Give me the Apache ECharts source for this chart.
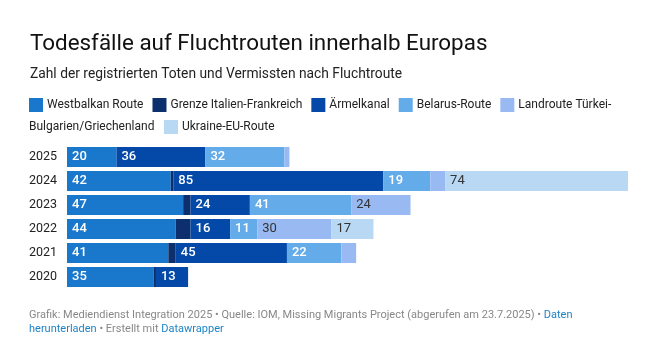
<!DOCTYPE html>
<html><head><meta charset="utf-8">
<script src="https://cdn.jsdelivr.net/npm/echarts@6/dist/echarts.min.js"></script>
<style>html,body{margin:0;padding:0;background:#fff}#c{width:656px;height:359px}</style>
</head><body><div id="c"></div>
<script>
const years = ['2025','2024','2023','2022','2021','2020'];
const seriesNames = ['Westbalkan Route','Grenze Italien-Frankreich','Ärmelkanal','Belarus-Route','Landroute Türkei-Bulgarien/Griechenland','Ukraine-EU-Route'];
const westbalkan  = [20, 42, 47, 44, 41, 35];
const grenze      = [0, 1, 3, 6, 3, 1];
const aermelkanal = [36, 85, 24, 16, 45, 13];
const belarus     = [32, 19, 41, 11, 22, 0];
const landroute   = [2, 6, 24, 30, 6, 0];
const ukraine     = [0, 74, 0, 17, 0, 0];
const colors = ['#1a78cc','#0d2f6e','#0449a8','#64abea','#98b9f1','#b8d8f4'];
const labelColors = ['#fff','#fff','#fff','#fff','#333','#333'];
const values = [westbalkan, grenze, aermelkanal, belarus, landroute, ukraine];

const FONT = 'Roboto';
const chart = echarts.init(document.getElementById('c'), null, {renderer:'canvas'});

const series = seriesNames.map((name, i) => ({
  name, type: 'bar', stack: 'total', barWidth: 20,
  itemStyle: { color: colors[i] },
  label: {
    show: true, position: 'insideLeft', distance: 5,
    color: labelColors[i], fontFamily: FONT, fontSize: 13,
    fontWeight: i < 4 ? 500 : 'normal',
    formatter: p => (p.value >= 10 ? String(p.value) : '')
  },
  emphasis: { disabled: true },
  data: values[i]
}));

const legendCommon = {
  orient: 'horizontal', itemWidth: 14, itemHeight: 14, itemGap: 9, padding: 0,
  icon: 'rect', selectedMode: false,
  textStyle: { fontFamily: FONT, fontSize: 12, color: '#222', padding: [0,0,0,-1] }
};

chart.setOption({
  animation: false,
  textStyle: { fontFamily: FONT },
  title: [
    { text: 'Todesfälle auf Fluchtrouten innerhalb Europas', left: 30, top: 33, padding: 0,
      textStyle: { fontFamily: FONT, fontSize: 22.4, fontWeight: 'normal', color: '#111' } },
    { text: 'Zahl der registrierten Toten und Vermissten nach Fluchtroute', left: 30, top: 68, padding: 0,
      textStyle: { fontFamily: FONT, fontSize: 13.8, fontWeight: 'normal', color: '#222' } }
  ],
  legend: [
    Object.assign({}, legendCommon, { left: 29, top: 98, data: seriesNames.slice(0,5),
      formatter: n => n === seriesNames[4] ? 'Landroute Türkei-' : n }),
    Object.assign({}, legendCommon, { left: 164, top: 120, data: [seriesNames[5]] })
  ],
  graphic: [
    { type: 'text', left: 29, top: 121,
      style: { text: 'Bulgarien/Griechenland', font: '12px ' + FONT, fill: '#222' } },
    { type: 'text', left: 29, top: 310,
      style: {
        text: '{g|Grafik: Mediendienst Integration 2025 • Quelle: IOM, Missing Migrants Project (abgerufen am 23.7.2025) • }{l|Daten}\n{l|herunterladen}{g| • Erstellt mit }{l|Datawrapper}',
        rich: {
          g: { fontFamily: FONT, fontSize: 11, fill: '#888', lineHeight: 14 },
          l: { fontFamily: FONT, fontSize: 11, fill: '#1d84c6', lineHeight: 14 }
        }
      } }
  ],
  grid: { left: 67, width: 561, top: 145, height: 144, containLabel: false },
  xAxis: { type: 'value', min: 0, max: 227, show: false },
  yAxis: {
    type: 'category', data: years, inverse: true,
    axisLine: { show: false }, axisTick: { show: false },
    axisLabel: { margin: 10, fontFamily: FONT, fontSize: 12.5, color: '#222' }
  },
  series
});
</script></body></html>
